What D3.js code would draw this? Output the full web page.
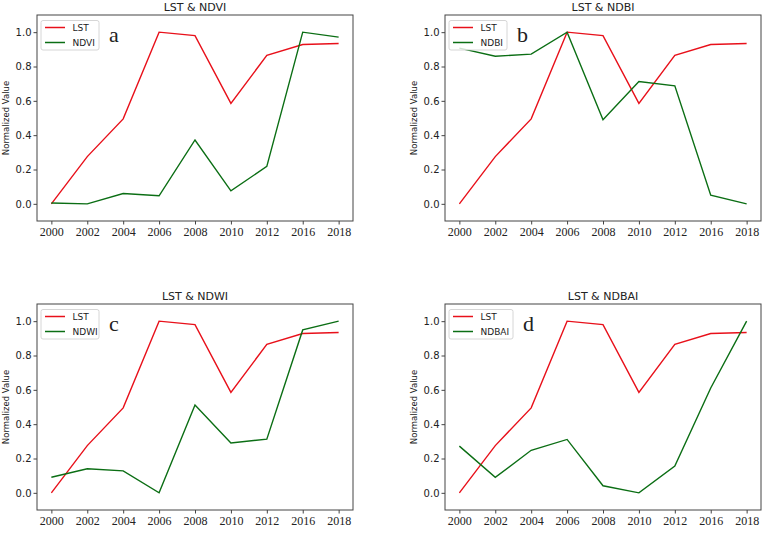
<!DOCTYPE html>
<html>
<head>
<meta charset="utf-8">
<script src="https://cdn.jsdelivr.net/npm/d3@7"></script>
<style>
  body { margin: 0; background: #fff; }
  text { fill: #222; }
</style>
</head>
<body>
<script>
// years are shown as equally spaced categories (2014 is missing)
var years = ["2000", "2002", "2004", "2006", "2008", "2010", "2012", "2016", "2018"];

var lst   = [0.0, 0.275, 0.495, 1.0, 0.98, 0.585, 0.865, 0.928, 0.934];
var ndvi  = [0.005, 0.0, 0.06, 0.047, 0.372, 0.076, 0.218, 1.0, 0.971];
var ndbi  = [0.907, 0.86, 0.872, 1.0, 0.49, 0.712, 0.687, 0.05, 0.0];
var ndwi  = [0.091, 0.14, 0.128, 0.0, 0.512, 0.29, 0.313, 0.949, 1.0];
var ndbai = [0.272, 0.09, 0.248, 0.311, 0.041, 0.0, 0.156, 0.611, 1.0];

var indexNames = ["NDVI", "NDBI", "NDWI", "NDBAI"];
var indexValues = [ndvi, ndbi, ndwi, ndbai];
var letters = ["a", "b", "c", "d"];
var yTicks = [0.0, 0.2, 0.4, 0.6, 0.8, 1.0];

var W = 764, H = 535;
var svg = d3.select("body").append("svg")
    .attr("width", W)
    .attr("height", H);

// panel box size and placement
var pw = 316, ph = 206;
var lefts = [37, 445], tops = [15, 304];

var x = d3.scalePoint().domain(years).range([0, pw]).padding(0.4);
var y = d3.scaleLinear().domain([-0.1, 1.1]).range([ph, 0]);

var line = d3.line()
    .x(function(d, i) { return x(years[i]); })
    .y(function(d) { return y(d); });

indexNames.forEach(function(name, k) {
    var g = svg.append("g")
        .attr("transform", "translate(" + lefts[k % 2] + "," + tops[Math.floor(k / 2)] + ")");

    // title
    g.append("text")
        .attr("x", pw / 2)
        .attr("y", -4.5)
        .attr("text-anchor", "middle")
        .style("font-family", "DejaVu Sans")
        .style("font-size", "11px")
        .text("LST & " + name);

    // y axis label
    g.append("text")
        .attr("transform", "translate(-28," + (ph / 2) + ") rotate(-90)")
        .attr("text-anchor", "middle")
        .style("font-family", "DejaVu Sans")
        .style("font-size", "8.5px")
        .text("Normalized Value");

    // axes
    var xa = g.append("g")
        .attr("transform", "translate(0," + ph + ")")
        .call(d3.axisBottom(x).tickSize(3.5).tickPadding(3));
    xa.select(".domain").remove();
    xa.selectAll("text")
        .style("font-family", "Liberation Serif")
        .style("font-size", "12px")
        .attr("fill", "#222");
    xa.selectAll("line").attr("stroke", "#444");

    var ya = g.append("g")
        .call(d3.axisLeft(y).tickValues(yTicks).tickFormat(d3.format(".1f")).tickSize(3.5).tickPadding(2));
    ya.select(".domain").remove();
    ya.selectAll("text")
        .style("font-family", "DejaVu Sans")
        .style("font-size", "10px")
        .attr("fill", "#222");
    ya.selectAll("line").attr("stroke", "#444");

    // lines
    g.append("path")
        .datum(lst)
        .attr("d", line)
        .attr("fill", "none")
        .attr("stroke", "#e8101a")
        .attr("stroke-width", 1.4);

    g.append("path")
        .datum(indexValues[k])
        .attr("d", line)
        .attr("fill", "none")
        .attr("stroke", "#0b6e14")
        .attr("stroke-width", 1.4);

    // frame
    g.append("rect")
        .attr("width", pw)
        .attr("height", ph)
        .attr("fill", "none")
        .attr("stroke", "#444")
        .attr("stroke-width", 1);

    // legend
    var legW = name.length > 4 ? 64 : 58;
    var leg = g.append("g").attr("transform", "translate(4,5.5)");
    leg.append("rect")
        .attr("width", legW)
        .attr("height", 29.5)
        .attr("rx", 2)
        .attr("fill", "#fff")
        .attr("fill-opacity", 0.8)
        .attr("stroke", "#ccc")
        .attr("stroke-width", 0.8);
    [["LST", "#e8101a"], [name, "#0b6e14"]].forEach(function(item, i) {
        leg.append("line")
            .attr("x1", 4).attr("x2", 24)
            .attr("y1", 7 + i * 15).attr("y2", 7 + i * 15)
            .attr("stroke", item[1])
            .attr("stroke-width", 1.5);
        leg.append("text")
            .attr("x", 31.5)
            .attr("y", 10.3 + i * 15)
            .style("font-family", "DejaVu Sans")
            .style("font-size", "9px")
            .text(item[0]);
    });

    // panel letter
    g.append("text")
        .attr("x", legW + 14)
        .attr("y", 26.7)
        .style("font-family", "Liberation Serif")
        .style("font-size", "22px")
        .attr("fill", "#111")
        .text(letters[k]);
});
</script>
</body>
</html>
